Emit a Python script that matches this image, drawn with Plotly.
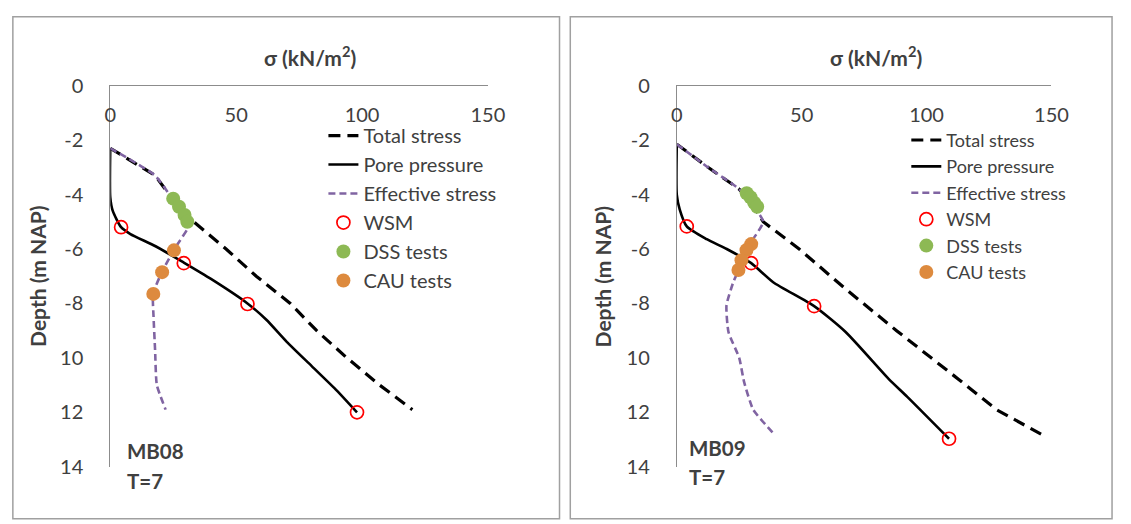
import plotly.graph_objects as go

W, H = 1131, 524

# ---------------- data ----------------
x_ticks = [0, 50, 100, 150]
y_ticks = [0, 2, 4, 6, 8, 10, 12, 14]
y_ticktext = ["0", "-2", "-4", "-6", "-8", "10", "12", "14"]

# MB08 (left panel)
total_d_08 = [2.3, 3.3, 4.2, 4.95, 6.0, 7.0, 8.0, 9.0, 10.0, 11.0, 11.9]
total_s_08 = [0, 17.8, 25, 32.5, 46, 58, 71.5, 82, 94, 107, 120]
pore_d_08 = [2.3, 4.1, 4.6, 5.2, 5.45, 5.9, 6.5, 7.1, 8.0, 8.6, 9.4, 10.3, 11.2, 12.0]
pore_s_08 = [0, 0, 1, 4.3, 8, 18, 29.2, 40, 54.5, 62, 70, 80, 90, 98]
eff_d_08 = [2.3, 3.3, 4.2, 4.6, 5.0, 6.0, 6.85, 7.65, 8.5, 9.7, 11.0, 11.9]
eff_s_08 = [0, 17.8, 25, 28.5, 32, 25.5, 20.5, 17, 17.2, 17.8, 18.5, 22]
wsm_d_08 = [5.2, 6.52, 8.02, 12.0]
wsm_s_08 = [4.3, 29.2, 54.5, 98]
dss_d_08 = [4.15, 4.45, 4.75, 5.0]
dss_s_08 = [25, 27.3, 29.5, 30.6]
cau_d_08 = [6.05, 6.85, 7.65]
cau_s_08 = [25.3, 20.6, 17.1]

# MB09 (right panel)
total_d_09 = [2.15, 3.0, 3.8, 4.4, 5.0, 6.0, 7.47, 9.0, 10.8, 11.9, 12.86]
total_s_09 = [0, 12.5, 25, 30.5, 34.6, 49, 67.6, 88, 113, 128, 147]
pore_d_09 = [2.15, 4.0, 4.55, 5.17, 5.64, 6.0, 6.52, 7.22, 8.1, 9.05, 10.77, 11.43, 12.97]
pore_s_09 = [0, 0, 1.2, 4, 12, 20, 29.8, 38.6, 55, 67.6, 84.8, 92.3, 109]
eff_d_09 = [2.15, 3.0, 3.8, 4.4, 5.0, 5.75, 6.4, 6.8, 7.2, 8.07, 9.05, 10.0, 10.9, 11.9, 12.8]
eff_s_09 = [0, 12.5, 25, 30.5, 34.6, 29.8, 27, 24.7, 22.7, 19.9, 20.7, 25, 27, 30.6, 39]
wsm_d_09 = [5.17, 6.52, 8.1, 12.97]
wsm_s_09 = [4, 29.8, 55, 109]
dss_d_09 = [3.95, 4.1, 4.3, 4.45]
dss_s_09 = [28, 29.5, 31, 32.2]
cau_d_09 = [5.82, 6.04, 6.41, 6.77]
cau_s_09 = [29.8, 27.9, 25.9, 24.7]

panel_labels = [("MB08", "T=7"), ("MB09", "T=7")]
series_names = ["Total stress", "Pore pressure", "Effective stress", "WSM", "DSS tests", "CAU tests"]

# ---------------- styling ----------------
FONT = "Lato, Carlito, Calibri, sans-serif"
TXT = "#404040"
PURPLE = "#8064A2"
GREEN = "#8DB954"
ORANGE = "#DD8A3E"
RED = "#FF0000"

# the photographed picture is cropped around the drawn content; these
# factors map intended picture pixels to page pixels
OX, SX = 5.1, 0.9857
OY, SY = 10.2, 0.9563


def px_x(p):
    return ((p - OX) / SX) / W


def px_y(p):
    return 1 - ((p - OY) / SY) / H


def raw_x(p):
    return p / W


def raw_y(p):
    return 1 - p / H


fig = go.Figure()

panels = [
    dict(xa="x", ya="y", leg="legend",
         total=(total_s_08, total_d_08), pore=(pore_s_08, pore_d_08), eff=(eff_s_08, eff_d_08),
         wsm=(wsm_s_08, wsm_d_08), dss=(dss_s_08, dss_d_08), cau=(cau_s_08, cau_d_08)),
    dict(xa="x2", ya="y2", leg="legend2",
         total=(total_s_09, total_d_09), pore=(pore_s_09, pore_d_09), eff=(eff_s_09, eff_d_09),
         wsm=(wsm_s_09, wsm_d_09), dss=(dss_s_09, dss_d_09), cau=(cau_s_09, cau_d_09)),
]

for p in panels:
    common = dict(xaxis=p["xa"], yaxis=p["ya"], legend=p["leg"])
    fig.add_trace(go.Scatter(x=p["total"][0], y=p["total"][1], mode="lines", name=series_names[0],
                             line=dict(color="black", width=3.2, dash="12px,7px"),
                             legendgroup=p["leg"] + "a", **common))
    fig.add_trace(go.Scatter(x=p["pore"][0], y=p["pore"][1], mode="lines", name=series_names[1],
                             line=dict(color="black", width=2.6, shape="spline", smoothing=0.6),
                             legendgroup=p["leg"] + "b", **common))
    fig.add_trace(go.Scatter(x=p["eff"][0], y=p["eff"][1], mode="lines", name=series_names[2],
                             line=dict(color=PURPLE, width=2.6, dash="7px,4px", shape="spline", smoothing=0.5),
                             legendgroup=p["leg"] + "c", **common))
    fig.add_trace(go.Scatter(x=p["wsm"][0], y=p["wsm"][1], mode="markers", name=series_names[3],
                             marker=dict(symbol="circle-open", color=RED, size=13, line=dict(width=1.7)),
                             legendgroup=p["leg"] + "d", **common))
    fig.add_trace(go.Scatter(x=p["dss"][0], y=p["dss"][1], mode="markers", name=series_names[4],
                             marker=dict(symbol="circle", color=GREEN, size=14),
                             legendgroup=p["leg"] + "e", **common))
    fig.add_trace(go.Scatter(x=p["cau"][0], y=p["cau"][1], mode="markers", name=series_names[5],
                             marker=dict(symbol="circle", color=ORANGE, size=14),
                             legendgroup=p["leg"] + "f", **common))

y_dom = [px_y(465), px_y(83)]
axis_common_x = dict(range=[0, 150], side="top", showline=True, linecolor="#8C8C8C", linewidth=1,
                     ticks="", tickvals=x_ticks, ticklabelposition="inside", ticklabeloverflow="allow",
                     ticklabelstandoff=23, showgrid=False, zeroline=False,
                     tickfont=dict(family=FONT, size=20, color=TXT))
axis_common_y = dict(range=[14, 0], showline=True, linecolor="#8C8C8C", linewidth=1, ticks="",
                     tickvals=y_ticks, ticktext=y_ticktext, ticklabelstandoff=22,
                     showgrid=False, zeroline=False, domain=y_dom,
                     tickfont=dict(family=FONT, size=20, color=TXT))

legend_common = dict(bgcolor="rgba(0,0,0,0)", borderwidth=0, xanchor="left", yanchor="top",
                     traceorder="grouped", itemclick=False)

fig.update_layout(
    width=W, height=H,
    margin=dict(l=0, r=0, t=0, b=0),
    paper_bgcolor="white", plot_bgcolor="white",
    font=dict(family=FONT, color=TXT),
    xaxis=dict(domain=[px_x(110), px_x(490)], anchor="y", **axis_common_x),
    yaxis=dict(anchor="x", **axis_common_y),
    xaxis2=dict(domain=[px_x(680), px_x(1057)], anchor="y2", **axis_common_x),
    yaxis2=dict(anchor="x2", **axis_common_y),
    legend=dict(x=raw_x(324), y=raw_y(108), font=dict(family=FONT, size=20, color=TXT),
                tracegroupgap=0, **legend_common),
    legend2=dict(x=raw_x(919), y=raw_y(114), font=dict(family=FONT, size=18, color=TXT),
                 tracegroupgap=0, **legend_common),
    showlegend=True,
)

# panel frames
for x0, x1 in [(7, 565), (576, 1129)]:
    fig.add_shape(type="rect", xref="paper", yref="paper",
                  x0=raw_x(x0), x1=raw_x(x1), y0=raw_y(530), y1=raw_y(4),
                  line=dict(color="#A0A0A0", width=1.5), fillcolor="rgba(0,0,0,0)", layer="below")

# axis titles and panel labels: (title x, depth-title x, label x, label y1, label y2)
for (cx, tx, ax0, ly1, ly2), (lab1, lab2) in zip([(311, 37, 125, 449, 479), (880, 605, 690, 446, 475)],
                                                  panel_labels):
    fig.add_annotation(text="<b>σ (kN/m<sup>2</sup>)</b>", xref="paper", yref="paper",
                       x=px_x(cx), y=px_y(53), showarrow=False,
                       font=dict(family=FONT, size=21, color=TXT), xanchor="center", yanchor="middle")
    fig.add_annotation(text="<b>Depth (m NAP)</b>", xref="paper", yref="paper",
                       x=px_x(tx), y=px_y(274), showarrow=False, textangle=-90,
                       font=dict(family=FONT, size=21, color=TXT), xanchor="center", yanchor="middle")
    fig.add_annotation(text="<b>" + lab1 + "</b>", xref="paper", yref="paper",
                       x=px_x(ax0), y=px_y(ly1), showarrow=False,
                       font=dict(family=FONT, size=20.5, color=TXT), xanchor="left", yanchor="middle")
    fig.add_annotation(text="<b>" + lab2 + "</b>", xref="paper", yref="paper",
                       x=px_x(ax0), y=px_y(ly2), showarrow=False,
                       font=dict(family=FONT, size=20.5, color=TXT), xanchor="left", yanchor="middle")

PAGE_JS = (
    "var gd=document.getElementById('{plot_id}');"
    "var de=document.documentElement;de.style.margin='0';de.style.padding='0';de.style.overflow='hidden';"
    "document.body.style.margin='0';document.body.style.padding='0';document.body.style.overflow='hidden';"
    "gd.style.position='fixed';gd.style.left='0px';gd.style.top='0px';"
)

fig.write_html("out.html", config={"responsive": False, "displayModeBar": False},
               post_script=PAGE_JS)
